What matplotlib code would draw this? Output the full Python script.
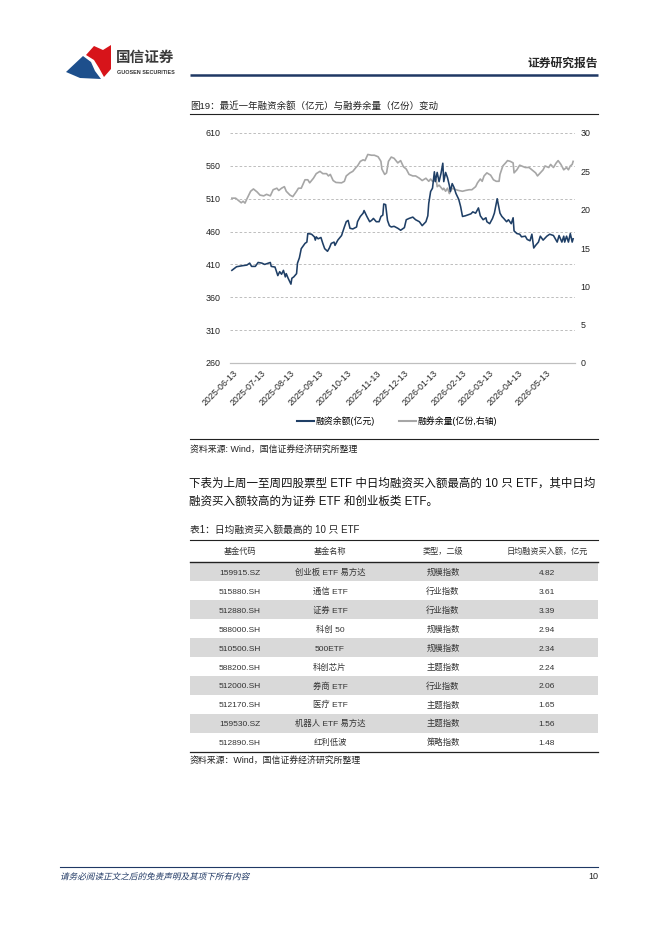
import numpy as np
import pandas as pd
import matplotlib
matplotlib.use("Agg")
import matplotlib.pyplot as plt
from matplotlib.patches import Polygon, Rectangle, PathPatch
from matplotlib.lines import Line2D
from matplotlib.textpath import TextPath
from matplotlib.font_manager import FontProperties
from matplotlib.transforms import Affine2D

plt.rcParams['font.family'] = ['Liberation Sans', 'Noto Sans CJK SC']

# ---- chart data ----
start_date = "2025-06-12"
tick_labels = ["2025-06-13", "2025-07-13", "2025-08-13", "2025-09-13", "2025-10-13",
               "2025-11-13", "2025-12-13", "2026-01-13", "2026-02-13", "2026-03-13",
               "2026-04-13", "2026-05-13"]
left_ticks = [260, 310, 360, 410, 460, 510, 560, 610]
right_ticks = [0, 5, 10, 15, 20, 25, 30]

# 融资余额 (亿元), days after start_date
rz_days = [0, 5, 11, 16, 19, 21, 25, 28, 32, 35, 41, 42, 46, 49, 51, 53, 55, 57, 58, 60,
           63, 64, 66, 69, 70, 72, 74, 78, 80, 81, 85, 88, 89, 90, 92, 95, 97, 99, 102, 104,
           106, 109, 110, 113, 117, 120, 122, 124, 126, 129, 133, 134, 137, 140, 141, 144, 147, 149, 151, 154,
           157, 159, 161, 162, 164, 166, 168, 170, 173, 177, 180, 184, 186, 189, 193, 196, 200, 203, 207, 209,
           210, 212, 214, 216, 217, 219, 221, 223, 225, 226, 228, 230, 232, 233, 235, 237, 239, 242, 244, 246,
           249, 255, 257, 260, 263, 265, 268, 271, 272, 275, 278, 280, 283, 286, 288, 290, 293, 295, 298, 300,
           301, 304, 307, 309, 313, 315, 318, 320, 322, 324, 327, 329, 332, 336, 339, 343, 347, 349, 352, 354,
           355, 357, 359, 361, 363, 364]
rz_vals = [401, 406.5, 408, 409, 412, 407, 407, 413, 412, 410, 413, 407, 406, 393, 399, 395, 401, 391, 396, 389,
           380, 389, 391, 396, 412, 420, 434, 442, 444, 457, 456, 452, 447, 452, 449, 451, 442, 434, 430, 435,
           442, 444, 439, 447, 454, 467, 475, 477, 465, 464, 467, 475, 483, 488, 492, 483, 475, 477, 480, 475,
           475, 483, 485, 502, 501, 477, 469, 467, 468, 465, 462, 466, 478, 480, 482, 478, 475, 469, 475, 484,
           503, 521, 526, 551, 536, 550, 536, 548, 564, 536, 550, 542, 530, 521, 533, 527, 518, 509, 498, 483,
           484, 487, 490, 488, 496, 484, 478, 481, 475, 472, 480, 488, 510, 488, 483, 480, 475, 478, 472, 481,
           461, 457, 456, 452, 453, 448, 446, 456, 435, 439, 444, 453, 447, 453, 456, 454, 444, 454, 444, 453,
           444, 453, 444, 457, 444, 449]

# 融券余量 (亿份, 右轴)
rq_days = [0, 4, 7, 10, 12, 14, 16, 20, 23, 27, 30, 34, 37, 41, 44, 48, 50, 53, 56, 58,
           62, 65, 69, 71, 74, 78, 81, 83, 87, 90, 94, 97, 101, 103, 105, 108, 111, 117, 120, 122,
           126, 129, 133, 134, 137, 140, 142, 145, 149, 152, 156, 159, 160, 163, 165, 167, 170, 173, 177, 180,
           183, 186, 189, 193, 196, 200, 203, 207, 210, 212, 214, 218, 219, 221, 225, 226, 228, 230, 232, 235,
           239, 242, 246, 249, 253, 256, 260, 262, 265, 267, 269, 272, 276, 279, 282, 285, 286, 289, 292, 294,
           297, 300, 301, 304, 307, 309, 313, 317, 320, 324, 326, 329, 332, 334, 338, 340, 343, 346, 348, 351,
           354, 357, 359, 361, 363, 364]
rq_vals = [21.5, 21.5, 21.2, 20.9, 21.1, 20.85, 21.4, 22.4, 22.7, 22.3, 21.9, 21.8, 22.0, 21.8, 22.6, 22.8, 22.5, 22.8, 23.0, 22.4,
           21.9, 21.7, 22.4, 22.8, 22.8, 23.9, 23.9, 23.5, 24.1, 24.7, 25.0, 24.7, 24.7, 24.4, 24.6, 23.8, 23.55, 23.5, 23.7, 24.4,
           24.8, 25.0, 25.6, 25.7, 26.3, 26.5, 26.4, 27.2, 27.1, 27.1, 26.9, 26.3, 25.3, 24.6, 24.8, 26.3, 26.86, 26.7, 26.1, 26.4,
           25.6, 25.3, 24.6, 24.4, 24.4, 24.1, 23.8, 24.1, 23.7, 24.0, 23.7, 23.9, 23.0, 23.2, 22.6, 22.8, 22.4, 22.8, 22.1, 22.8,
           22.6, 22.5, 22.4, 22.5, 22.6, 22.6, 23.0, 23.5, 24.0, 23.7, 24.4, 24.8, 24.5, 23.9, 23.7, 23.7, 24.6, 25.7, 26.1, 26.4,
           26.3, 26.1, 24.8, 25.2, 25.8, 25.7, 25.5, 25.5, 25.2, 24.8, 24.4, 24.8, 25.2, 25.7, 25.5, 25.9, 25.5, 26.1, 26.4, 25.9,
           25.2, 25.5, 25.2, 25.7, 25.9, 26.3]

# ---- table data ----
col_headers = ["基金代码", "基金名称", "类型，二级", "日均融资买入额，亿元"]
codes = ["159915.SZ", "515880.SH", "512880.SH", "588000.SH", "510500.SH",
         "588200.SH", "512000.SH", "512170.SH", "159530.SZ", "512890.SH"]
names = ["创业板 ETF 易方达", "通信 ETF", "证券 ETF", "科创 50", "500ETF",
         "科创芯片", "券商 ETF", "医疗 ETF", "机器人 ETF 易方达", "红利低波"]
types = ["规模指数", "行业指数", "行业指数", "规模指数", "规模指数",
         "主题指数", "行业指数", "主题指数", "主题指数", "策略指数"]
amounts = [4.82, 3.61, 3.39, 2.94, 2.34, 2.24, 2.06, 1.65, 1.56, 1.48]

NAVY = "#1f3f66"
GREY = "#a6a6a6"
W, H = 662, 936

fig = plt.figure(figsize=(W / 100, H / 100), dpi=100)
page = fig.add_axes([0, 0, 1, 1])
page.set_xlim(0, W)
page.set_ylim(H, 0)
page.axis("off")


def line_text(x, y, s, size, **kw):
    # baseline-anchored so latin and CJK glyphs sit on the same line
    page.text(x, y + 0.37 * size * 1.389, s, fontsize=size, va="baseline", **kw)


# ---- header ----
page.add_patch(Polygon([(66, 72), (83, 56), (91, 62), (95, 71), (101, 79), (80, 78)],
                       closed=True, color="#1d4f8c", lw=0))
page.add_patch(Polygon([(86, 55), (94, 46), (103, 50), (111, 45), (111, 69), (104, 77), (99, 68), (94, 60)],
                       closed=True, color="#d7141a", lw=0))
line_text(116, 57, "国信证券", 10.5, fontweight="bold", color="#3a3a3a", ha="left")
line_text(117, 71.5, "GUOSEN SECURITIES", 3.9, fontweight="bold", color="#333333", ha="left")
line_text(598, 62, "证券研究报告", 8.5, fontweight="bold", color="#262626", ha="right")
page.plot([190, 598], [75, 75], color="#1f3864", lw=1.8, solid_capstyle="butt")

# ---- figure caption ----
line_text(190, 105, "图19：最近一年融资余额（亿元）与融券余量（亿份）变动", 6.8, color="#222222", ha="left")
page.plot([190, 598], [114, 114], color="#222222", lw=0.8)

# ---- chart ----
ax = fig.add_axes([230 / W, 1 - 363 / H, 345 / W, 230 / H])
ax2 = ax.twinx()
base = pd.Timestamp(start_date)
rz_x = (base + pd.to_timedelta(rz_days, unit="D")).to_numpy()
rq_x = (base + pd.to_timedelta(rq_days, unit="D")).to_numpy()

ax.plot(rz_x, rz_vals, color=NAVY, lw=1.15, zorder=3)
ax2.plot(rq_x, rq_vals, color=GREY, lw=1.2, zorder=3)
ax.set_zorder(ax2.get_zorder() + 1)
ax.patch.set_visible(False)

ax.set_xlim(pd.Timestamp("2025-06-10"), pd.Timestamp("2026-06-13"))
ax.set_ylim(left_ticks[0], left_ticks[-1])
ax2.set_ylim(right_ticks[0], right_ticks[-1])
ax.set_yticks(left_ticks)
ax2.set_yticks(right_ticks)
for g in left_ticks[1:]:
    ax.axhline(g, color="#b3b3b3", lw=0.6, ls=(0, (3, 2.5)), zorder=1)

ax.set_xticks(pd.to_datetime(tick_labels).to_numpy())
ax.set_xticklabels(tick_labels, rotation=45, ha="right", rotation_mode="anchor")
for a in (ax, ax2):
    for s in ("top", "left", "right"):
        a.spines[s].set_visible(False)
    a.spines["bottom"].set_color("#bfbfbf")
    a.spines["bottom"].set_linewidth(0.8)
    a.tick_params(length=0, labelsize=6.4, colors="#222222")
ax.tick_params(axis="y", pad=7)
ax.tick_params(axis="x", pad=4)
ax2.tick_params(axis="y", pad=4)

handles = [Line2D([], [], color=NAVY, lw=1.5), Line2D([], [], color=GREY, lw=1.5)]
fig.legend(handles, ["融资余额(亿元)", "融券余量(亿份,右轴)"], loc="center", ncol=2, frameon=False,
           bbox_to_anchor=(397 / W, 1 - 421 / H), fontsize=6.4, handlelength=1.9,
           handletextpad=0.15, columnspacing=2.8)

page.plot([190, 598], [439, 439], color="#222222", lw=0.8)
line_text(190, 449.5, "资料来源: Wind，国信证券经济研究所整理", 6.4, color="#222222", ha="left")

# ---- paragraph ----
line_text(189, 482, "下表为上周一至周四股票型 ETF 中日均融资买入额最高的 10 只 ETF，其中日均",
          8.3, color="#111111", ha="left")
line_text(189, 500, "融资买入额较高的为证券 ETF 和创业板类 ETF。", 8.3, color="#111111", ha="left")

# ---- table ----
line_text(190, 529, "表1：日均融资买入额最高的 10 只 ETF", 7, color="#222222", ha="left")
page.plot([190, 598], [539.5, 539.5], color="#222222", lw=0.8)

col_x = [240, 330, 443, 547]
for cx, h in zip(col_x, col_headers):
    line_text(cx, 550.5, h, 5.9, color="#333333", ha="center")
page.plot([190, 598], [562, 562], color="#222222", lw=1.0)

row_h = 18.9
for i in range(len(codes)):
    cy = 572 + i * row_h
    if i % 2 == 0:
        page.add_patch(Rectangle((190, cy - row_h / 2), 408, row_h, color="#d9d9d9", lw=0, zorder=0))
    cells = [codes[i], names[i], types[i], f"{amounts[i]:.2f}"]
    for cx, c in zip(col_x, cells):
        line_text(cx, cy, c, 6.0, color="#333333", ha="center")
page.plot([190, 598], [752, 752], color="#222222", lw=0.9)
line_text(190, 760.5, "资料来源：Wind，国信证券经济研究所整理", 6.4, color="#222222", ha="left")

# ---- footer ----
page.plot([60, 598], [867, 867], color="#1f3864", lw=0.8)
fp = FontProperties(family="Noto Sans CJK SC")
tp = TextPath((0, 0), "请务必阅读正文之后的免责声明及其项下所有内容", size=8.6, prop=fp)
italic = Affine2D().skew_deg(14, 0).scale(1, -1).translate(60, 879.5) + page.transData
page.add_patch(PathPatch(tp, transform=italic, color="#1f3864", lw=0))
line_text(598, 876, "10", 6.5, color="#222222", ha="right")

fig.savefig("out.png", dpi=100)
